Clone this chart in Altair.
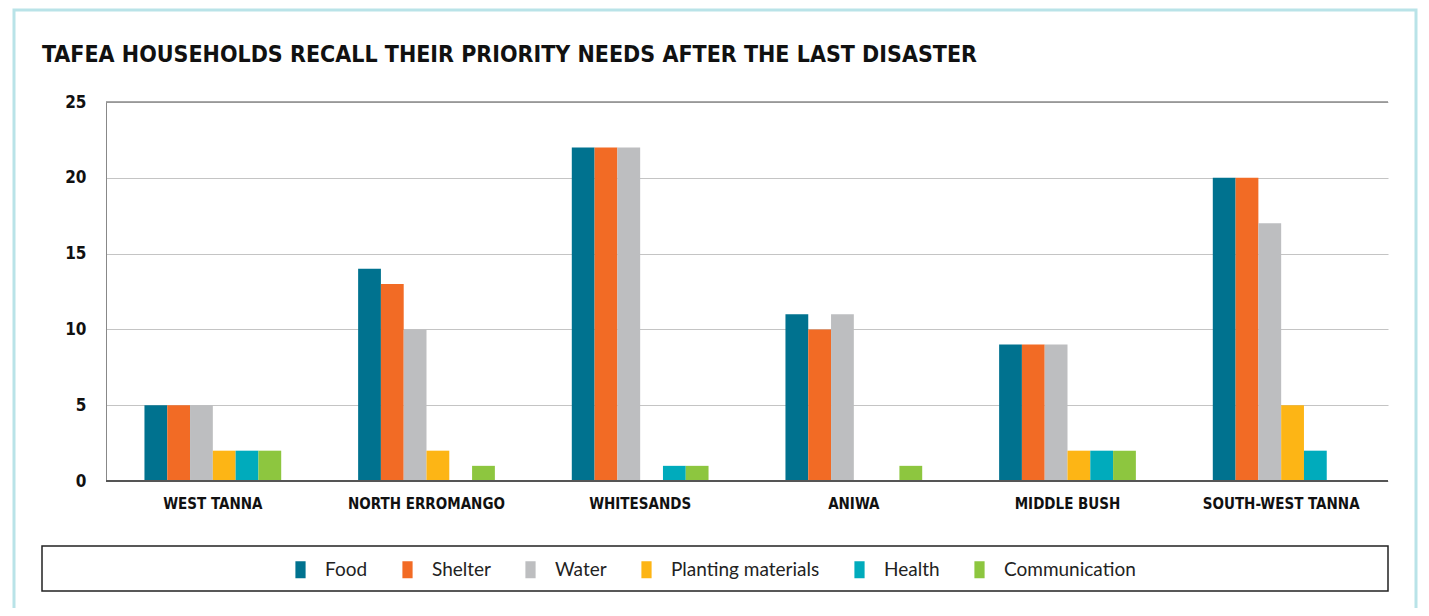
import altair as alt
import pandas as pd

regions = ["WEST TANNA", "NORTH ERROMANGO", "WHITESANDS", "ANIWA", "MIDDLE BUSH", "SOUTH-WEST TANNA"]
needs = ["Food", "Shelter", "Water", "Planting materials", "Health", "Communication"]
colors = ["#00728f", "#f26b25", "#bdbec0", "#fdb515", "#00abbc", "#8dc63f"]

food = [5, 14, 22, 11, 9, 20]
shelter = [5, 13, 22, 10, 9, 20]
water = [5, 10, 22, 11, 9, 17]
planting = [2, 2, 0, 0, 2, 5]
health = [2, 0, 1, 0, 2, 2]
communication = [2, 1, 1, 1, 2, 0]

title_text = "TAFEA HOUSEHOLDS RECALL THEIR PRIORITY NEEDS AFTER THE LAST DISASTER"

series = [food, shelter, water, planting, health, communication]
rows = []
for need, vals in zip(needs, series):
    for r, v in zip(regions, vals):
        rows.append({"region": r, "need": need, "value": v})
df = pd.DataFrame(rows)

W, H = 1282, 379
cond = "DejaVu Sans Condensed"

bars = alt.Chart(df).mark_bar().encode(
    x=alt.X("region:N", sort=regions, title=None,
            scale=alt.Scale(paddingInner=0.36, paddingOuter=0.18),
            axis=alt.Axis(labelAngle=0, labelFont=cond, labelFontWeight="bold",
                          labelFontSize=15, labelColor="#111", labelPadding=15, labelLimit=0,
                          ticks=False, domain=False)),
    xOffset=alt.XOffset("need:N", sort=needs, scale=alt.Scale(domain=needs)),
    y=alt.Y("value:Q", title=None, scale=alt.Scale(domain=[0, 25], nice=False),
            axis=alt.Axis(values=[0, 5, 10, 15, 20, 25], labelFont=cond, labelFontWeight="bold",
                          labelFontSize=17, labelColor="#111", labelPadding=20, ticks=False,
                          domainColor="#888", gridColor="#c4c4c4", gridWidth=1.2)),
    color=alt.Color("need:N", sort=needs, scale=alt.Scale(domain=needs, range=colors),
                    legend=alt.Legend(title=None, orient="none", legendX=185, legendY=458,
                                      direction="horizontal", columns=6,
                                      symbolType="M-0.6,-1H0.6V1H-0.6Z", symbolSize=289,
                                      symbolStrokeWidth=0, labelFont="Lato", labelFontSize=19,
                                      labelColor="#222", labelOffset=15, columnPadding=30)),
)

top_rule = alt.Chart(pd.DataFrame({"y": [25]})).mark_rule(color="#8a8a8a", strokeWidth=1.5).encode(
    y="y:Q", x=alt.value(0), x2=alt.value(W))

baseline = alt.Chart(pd.DataFrame({"y": [0]})).mark_rule(color="#555", strokeWidth=2).encode(
    y="y:Q", x=alt.value(0), x2=alt.value(W))

legend_box = alt.Chart(pd.DataFrame({"a": [0]})).mark_rect(
    fill="white", stroke="#222", strokeWidth=1.5).encode(
    x=alt.value(-64), x2=alt.value(1282), y=alt.value(444), y2=alt.value(489))

frame = alt.Chart(pd.DataFrame({"a": [0]})).mark_rect(
    fill=None, stroke="#b9e3e8", strokeWidth=3).encode(
    x=alt.value(-92), x2=alt.value(1310), y=alt.value(-92), y2=alt.value(530))

title = alt.Chart(pd.DataFrame({"t": [title_text]})).mark_text(
    align="left", baseline="alphabetic", font=cond, fontWeight="bold", fontSize=23,
    color="#111").encode(text="t:N", x=alt.value(-64), y=alt.value(-40))

chart = alt.layer(frame, legend_box, title, top_rule, bars, baseline).properties(
    width=W, height=H,
    autosize=alt.AutoSizeParams(type="none"),
    padding={"left": 98, "top": 94, "right": 33, "bottom": 127},
).configure_view(stroke=None).configure_axis(grid=True).configure_axisX(grid=False)

chart.save("out.html", embed_options={"renderer": "svg", "actions": False})
